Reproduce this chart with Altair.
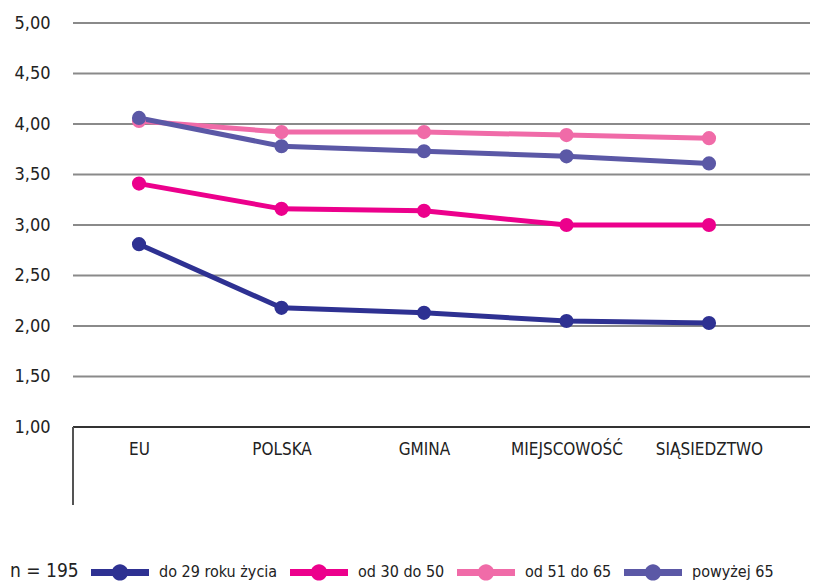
import altair as alt
import pandas as pd

categories = ["EU", "POLSKA", "GMINA", "MIEJSCOWOŚĆ", "SIĄSIEDZTWO"]
series = ["do 29 roku życia", "od 30 do 50", "od 51 do 65", "powyżej 65"]
v_do29 = [2.81, 2.18, 2.13, 2.05, 2.03]
v_30_50 = [3.41, 3.16, 3.14, 3.00, 3.00]
v_51_65 = [4.03, 3.92, 3.92, 3.89, 3.86]
v_65 = [4.06, 3.78, 3.73, 3.68, 3.61]
colors = ["#2E3192", "#EC008C", "#F06BA8", "#5B58A6"]
y_ticks = [1.0, 1.5, 2.0, 2.5, 3.0, 3.5, 4.0, 4.5, 5.0]
legend_title = "n = 195"

rows = []
for s, vals in zip(series, [v_do29, v_30_50, v_51_65, v_65]):
    for c, v in zip(categories, vals):
        rows.append({"kat": c, "grupa": s, "wartosc": v})
df = pd.DataFrame(rows)
grid_df = pd.DataFrame({"t": y_ticks, "base": [t == 1.0 for t in y_ticks]})

FONT = "Liberation Sans Narrow, DejaVu Sans Condensed, Roboto"

x = alt.X("kat:N", sort=categories, title=None,
          scale=alt.Scale(type="point", range=[66, 636], padding=0),
          axis=alt.Axis(domain=False, ticks=False, labelAngle=0, labelPadding=14,
                        labelFontSize=17, labelColor="#222", labelFont=FONT, grid=False))
yscale = alt.Scale(domain=[1, 5], nice=False, zero=False)
y = alt.Y("wartosc:Q", title=None, scale=yscale,
          axis=alt.Axis(values=y_ticks, domain=False, ticks=False, labelPadding=23,
                        labelFontSize=18, labelColor="#222", labelFont=FONT,
                        labelExpr="replace(format(datum.value, '.2f'), '.', ',')",
                        grid=False))

sym = ("M-1,-0.12L1,-0.12L1,0.12L-1,0.12Z "
       "M-0.28,0A0.28,0.28 0 1,1 0.28,0A0.28,0.28 0 1,1 -0.28,0Z")

color_scale = alt.Scale(domain=series, range=colors)

grid = alt.Chart(grid_df).mark_rule(strokeWidth=2).encode(
    y=alt.Y("t:Q", scale=yscale, title=None),
    x=alt.value(0), x2=alt.value(737),
    color=alt.condition("datum.base", alt.value("#333333"), alt.value("#8a8a8a")),
)
vline = alt.Chart(grid_df).mark_rule(color="#555", strokeWidth=1).encode(
    x=alt.value(0), y=alt.value(404), y2=alt.value(482)
)
lines = alt.Chart(df).mark_line(strokeWidth=5).encode(
    x=x, y=y,
    color=alt.Color("grupa:N", scale=color_scale, legend=None),
)
points = alt.Chart(df).mark_point(filled=True, size=200, opacity=1).encode(
    x=x, y=y,
    color=alt.Color("grupa:N", scale=color_scale,
                    legend=alt.Legend(title=legend_title, orient="none", direction="horizontal",
                                      legendX=-63, legendY=520, titleOrient="left",
                                      titleAnchor="middle", titleBaseline="top",
                                      titleFontSize=19, titleFontWeight="normal",
                                      titleColor="#222", titleFont=FONT, titlePadding=12,
                                      labelFontSize=16, labelColor="#222", labelFont=FONT,
                                      symbolType=sym, symbolSize=3364, symbolStrokeWidth=0,
                                      labelOffset=10, columnPadding=12)),
)

chart = alt.layer(grid, vline, lines, points).resolve_scale(color="independent").properties(
    width=737, height=404,
    background="white",
    autosize=alt.AutoSizeParams(type="none"),
    padding={"left": 65, "top": 15, "right": 2, "bottom": 160},
).configure_view(stroke=None)

chart.save("out.html", embed_options={"renderer": "svg", "actions": False})
